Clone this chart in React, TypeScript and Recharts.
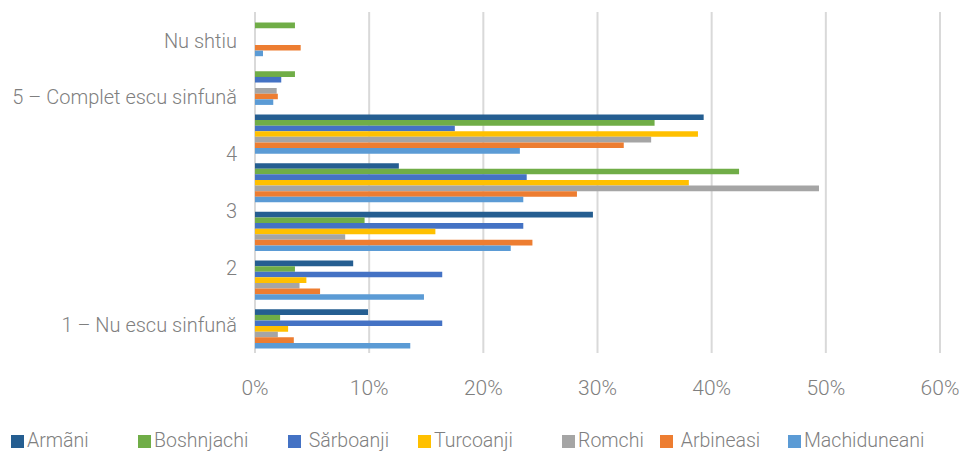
import {
  BarChart,
  Bar,
  XAxis,
  YAxis,
  CartesianGrid,
  Legend,
} from 'recharts'

// ─── Data ─────────────────────────────────────────────────────────────────────

// seven bar groups, top to bottom
const rows = ['g1', 'g2', 'g3', 'g4', 'g5', 'g6', 'g7']

// six answer labels on the vertical axis, top to bottom
const answerLabels = [
  'Nu shtiu',
  '5 – Complet escu sinfună',
  '4',
  '3',
  '2',
  '1 – Nu escu sinfună',
]

const armani = [0, 0, 39.3, 12.6, 29.6, 8.6, 9.9]
const boshnjachi = [3.5, 3.5, 35.0, 42.4, 9.6, 3.5, 2.2]
const sarboanji = [0, 2.3, 17.5, 23.8, 23.5, 16.4, 16.4]
const turcoanji = [0, 0, 38.8, 38.0, 15.8, 4.5, 2.9]
const romchi = [0, 1.9, 34.7, 49.4, 7.9, 3.9, 2.0]
const arbineasi = [4.0, 2.0, 32.3, 28.2, 24.3, 5.7, 3.4]
const machiduneani = [0.7, 1.6, 23.2, 23.5, 22.4, 14.8, 13.6]

const xTicks = [0, 10, 20, 30, 40, 50, 60]

// ─── Series config ────────────────────────────────────────────────────────────

// legendWidth = horizontal slot each legend entry takes (Excel spacing is uneven)
const SERIES = [
  { key: 'armani', label: 'Armãni', color: '#255E91', values: armani, legendWidth: 127 },
  { key: 'boshnjachi', label: 'Boshnjachi', color: '#70AD47', values: boshnjachi, legendWidth: 150 },
  { key: 'sarboanji', label: ' Sărboanji', color: '#4472C4', values: sarboanji, legendWidth: 130 },
  { key: 'turcoanji', label: 'Turcoanji', color: '#FFC000', values: turcoanji, legendWidth: 144 },
  { key: 'romchi', label: 'Romchi', color: '#A5A5A5', values: romchi, legendWidth: 98 },
  { key: 'arbineasi', label: ' Arbineasi', color: '#ED7D31', values: arbineasi, legendWidth: 128 },
  { key: 'machiduneani', label: 'Machiduneani', color: '#5B9BD5', values: machiduneani, legendWidth: 160 },
]

const data = rows.map((row, i) => {
  const entry: Record<string, string | number> = { row }
  for (const s of SERIES) entry[s.key] = s.values[i]
  return entry
})

const TEXT = '#7f7f7f'
const FONT = 'Roboto, "Noto Sans", sans-serif'

// ─── Legend ───────────────────────────────────────────────────────────────────

function SeriesLegend() {
  return (
    <div
      style={{
        height: 49,
        boxSizing: 'border-box',
        paddingTop: 27,
        paddingLeft: 11,
        display: 'flex',
        fontFamily: FONT,
        fontWeight: 300,
        fontSize: 19.5,
        lineHeight: '22px',
        color: TEXT,
      }}
    >
      {SERIES.map((s) => (
        <div
          key={s.key}
          style={{ display: 'flex', alignItems: 'center', gap: 3, width: s.legendWidth, flexShrink: 0 }}
        >
          <span style={{ display: 'inline-block', width: 13, height: 13, background: s.color }} />
          <span style={{ whiteSpace: 'pre' }}>{s.label}</span>
        </div>
      ))}
    </div>
  )
}

// ─── App ──────────────────────────────────────────────────────────────────────

export default function App() {
  return (
    <div style={{ position: 'absolute', left: 0, top: 0, background: '#fff' }}>
      <BarChart
        width={963}
        height={452}
        data={data}
        layout="vertical"
        margin={{ top: 12, right: 23, bottom: 0, left: 0 }}
        barGap={0}
        barSize={5.6}
      >
        <CartesianGrid
          yAxisId="cat"
          horizontal={false}
          stroke="#d9d9d9"
          strokeWidth={2}
        />
        <XAxis
          type="number"
          domain={[0, 60]}
          ticks={xTicks}
          tickFormatter={(v) => `${v}%`}
          axisLine={false}
          tickLine={false}
          tickSize={0}
          tickMargin={27}
          height={50}
          tick={{ fill: TEXT, fontSize: 21, fontFamily: FONT, fontWeight: 300 }}
          interval={0}
        />
        <YAxis yAxisId="cat" type="category" dataKey="row" hide width={0} />
        <YAxis
          yAxisId="lab"
          type="number"
          domain={[0, 6]}
          allowDataOverflow
          ticks={[0.5, 1.5, 2.5, 3.5, 4.5, 5.5]}
          tickFormatter={(v) => answerLabels[Math.floor(v)]}
          interval={0}
          width={255}
          axisLine={false}
          tickLine={false}
          tickSize={0}
          tickMargin={18}
          tick={{ fill: TEXT, fontSize: 20, fontFamily: FONT, fontWeight: 300 }}
        />
        {SERIES.map((s) => (
          <Bar
            key={s.key}
            yAxisId="cat"
            dataKey={s.key}
            name={s.label}
            fill={s.color}
            isAnimationActive={false}
          />
        ))}
        <Legend verticalAlign="bottom" content={<SeriesLegend />} />
      </BarChart>
    </div>
  )
}
